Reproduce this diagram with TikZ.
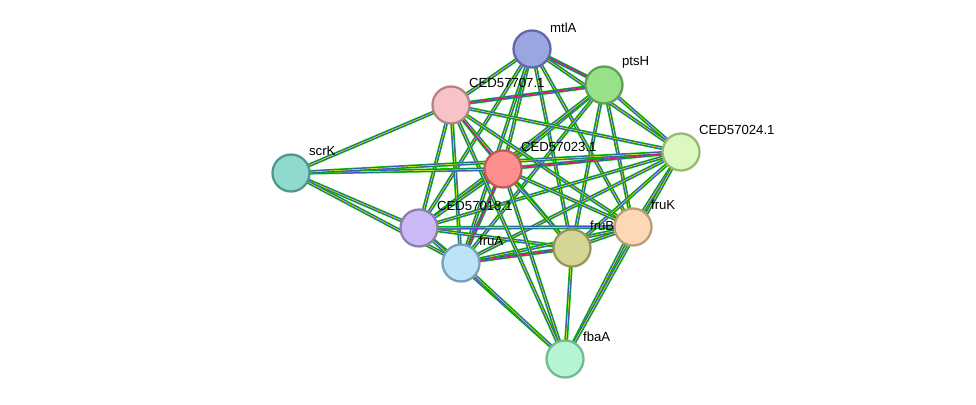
\documentclass[tikz,border=0pt]{standalone}
\usepackage{fontspec}
\setmainfont{Liberation Sans}
\begin{document}
\begin{tikzpicture}[x=0.02cm,y=-0.02cm,
  prot/.style={circle,draw,line width=1.3pt,minimum size=0.74cm,inner sep=0pt},
  lab/.style={font=\fontsize{7.5}{8}\selectfont,anchor=south west,inner sep=1pt}]
\useasboundingbox (0,0) rectangle (976,405);
\coordinate (mtlA) at (532,49);
\coordinate (ptsH) at (604,85);
\coordinate (n707) at (451,105);
\coordinate (n024) at (681,152);
\coordinate (scrK) at (291,173);
\coordinate (n023) at (503,169);
\coordinate (n018) at (419,228);
\coordinate (fruK) at (633,227);
\coordinate (fruB) at (572,248);
\coordinate (fruA) at (461,263);
\coordinate (fbaA) at (565,359);
\foreach \a/\b in {mtlA/ptsH,mtlA/n707,mtlA/n024,mtlA/n023,mtlA/n018,mtlA/fruK,mtlA/fruB,mtlA/fruA,
 ptsH/n707,ptsH/n024,ptsH/n023,ptsH/n018,ptsH/fruK,ptsH/fruB,ptsH/fruA,
 n707/n024,n707/n023,n707/n018,n707/fruK,n707/fruB,n707/fruA,
 n024/n023,n024/n018,n024/fruK,n024/fruB,n024/fruA,
 n023/n018,n023/fruK,n023/fruB,n023/fruA,
 n018/fruK,n018/fruB,n018/fruA,fruK/fruB,fruK/fruA,fruB/fruA,
 fbaA/n018,fbaA/fruA,fbaA/fruB,fbaA/fruK,fbaA/n023,fbaA/n707,fbaA/n024,
 scrK/n707,scrK/n023,scrK/n018,scrK/fruA,scrK/n024}{
 \draw[green!75!black,line width=2.2pt] (\a)--(\b);
 \draw[blue!80,line width=1.2pt] (\a)--(\b);
 \draw[yellow!75!green,line width=0.5pt] (\a)--(\b);
}
\foreach \a/\b in {mtlA/ptsH,n707/n023,n023/fruA,n707/ptsH,n023/n024,fruB/fruA}{
 \draw[magenta,line width=0.5pt] (\a)--(\b);}
\node[prot,fill={rgb,255:red,155;green,165;blue,224},draw={rgb,255:red,95;green,105;blue,170}] (a1) at (mtlA) {};
\node[prot,fill={rgb,255:red,153;green,224;blue,138},draw={rgb,255:red,95;green,160;blue,85}] (a2) at (ptsH) {};
\node[prot,fill={rgb,255:red,247;green,195;blue,199},draw={rgb,255:red,180;green,130;blue,135}] (a3) at (n707) {};
\node[prot,fill={rgb,255:red,221;green,247;blue,192},draw={rgb,255:red,150;green,185;blue,120}] (a4) at (n024) {};
\node[prot,fill={rgb,255:red,143;green,217;blue,207},draw={rgb,255:red,80;green,150;blue,140}] (a5) at (scrK) {};
\node[prot,fill={rgb,255:red,255;green,143;blue,143},draw={rgb,255:red,190;green,90;blue,90}] (a6) at (n023) {};
\node[prot,fill={rgb,255:red,203;green,186;blue,245},draw={rgb,255:red,140;green,125;blue,180}] (a7) at (n018) {};
\node[prot,fill={rgb,255:red,253;green,216;blue,181},draw={rgb,255:red,190;green,155;blue,120}] (a8) at (fruK) {};
\node[prot,fill={rgb,255:red,213;green,213;blue,150},draw={rgb,255:red,150;green,150;blue,90}] (a9) at (fruB) {};
\node[prot,fill={rgb,255:red,189;green,227;blue,247},draw={rgb,255:red,120;green,160;blue,185}] (a10) at (fruA) {};
\node[prot,fill={rgb,255:red,182;green,245;blue,211},draw={rgb,255:red,115;green,185;blue,145}] (a11) at (fbaA) {};
\node[lab] (l1) at (548,35) {mtlA};
\node[lab] (l2) at (620,70) {ptsH};
\node[lab] (l3) at (467,90) {CED57707.1};
\node[lab] (l4) at (697,137) {CED57024.1};
\node[lab] (l5) at (307,158) {scrK};
\node[lab] (l6) at (519,154) {CED57023.1};
\node[lab] (l7) at (435,213) {CED57018.1};
\node[lab] (l8) at (649,212) {fruK};
\node[lab] (l9) at (588,233) {fruB};
\node[lab] (l10) at (477,248) {fruA};
\node[lab] (l11) at (581,344) {fbaA};
\end{tikzpicture}
\end{document}
